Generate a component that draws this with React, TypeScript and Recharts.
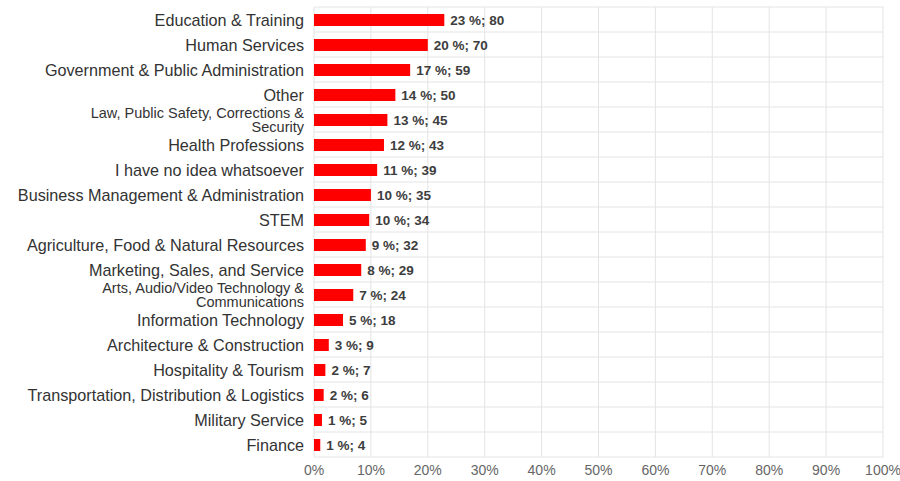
import React from "react";
import { BarChart, Bar, XAxis, YAxis, CartesianGrid, LabelList } from "recharts";

const categories = [
  "Education & Training",
  "Human Services",
  "Government & Public Administration",
  "Other",
  "Law, Public Safety, Corrections &\nSecurity",
  "Health Professions",
  "I have no idea whatsoever",
  "Business Management & Administration",
  "STEM",
  "Agriculture, Food & Natural Resources",
  "Marketing, Sales, and Service",
  "Arts, Audio/Video Technology &\nCommunications",
  "Information Technology",
  "Architecture & Construction",
  "Hospitality & Tourism",
  "Transportation, Distribution & Logistics",
  "Military Service",
  "Finance",
];

const percents = [22.9, 20.0, 16.9, 14.3, 12.9, 12.3, 11.1, 10.0, 9.7, 9.1, 8.3, 6.9, 5.1, 2.6, 2.0, 1.7, 1.4, 1.1];
const percentLabels = [23, 20, 17, 14, 13, 12, 11, 10, 10, 9, 8, 7, 5, 3, 2, 2, 1, 1];
const counts = [80, 70, 59, 50, 45, 43, 39, 35, 34, 32, 29, 24, 18, 9, 7, 6, 5, 4];
const xTicks = [0, 10, 20, 30, 40, 50, 60, 70, 80, 90, 100];

const data = categories.map((name, i) => ({
  name,
  value: percents[i],
  label: `${percentLabels[i]} %; ${counts[i]}`,
}));

const FONT = "'Liberation Sans', Arial, sans-serif";

const CategoryTick = (props: any) => {
  const { x, y, payload } = props;
  const lines = String(payload.value).split("\n");
  const multi = lines.length > 1;
  const fs = multi ? 14.5 : 16.2;
  const lh = 14.5;
  const start = -((lines.length - 1) * lh) / 2;
  return (
    <text x={x} y={y} textAnchor="end" fill="#333" fontSize={fs} fontFamily={FONT}>
      {lines.map((l, i) => (
        <tspan key={i} x={x} y={y + start + i * lh} dy="0.38em">
          {l}
        </tspan>
      ))}
    </text>
  );
};

export default function App() {
  return (
    <div style={{ position: "absolute", left: 0, top: 0, width: 900, height: 481, background: "#fff" }}>
      <BarChart
        width={900}
        height={481}
        data={data}
        layout="vertical"
        margin={{ top: 7, right: 17, bottom: 0, left: 0 }}
        barCategoryGap={0}
      >
        <CartesianGrid
          stroke="#e4e4e4"
          horizontalCoordinatesGenerator={({ offset }: any) =>
            categories.map((_, i) => offset.top + (i * offset.height) / categories.length).concat([offset.top + offset.height])
          }
        />
        <XAxis
          type="number"
          domain={[0, 100]}
          ticks={xTicks}
          tickFormatter={(v: number) => `${v}%`}
          axisLine={false}
          tickLine={false}
          height={24}
          interval={0}
          tick={{ fill: "#666", fontSize: 14, fontFamily: FONT }}
        />
        <YAxis
          type="category"
          dataKey="name"
          width={314}
          axisLine={false}
          tickLine={false}
          tickSize={6}
          tickMargin={4}
          interval={0}
          tick={<CategoryTick />}
        />
        <Bar dataKey="value" fill="#ff0000" barSize={12} isAnimationActive={false}>
          <LabelList
            dataKey="label"
            position="right"
            offset={6}
            fill="#3d3d3d"
            fontSize={13.5}
            fontWeight="bold"
            fontFamily={FONT}
          />
        </Bar>
      </BarChart>
    </div>
  );
}
